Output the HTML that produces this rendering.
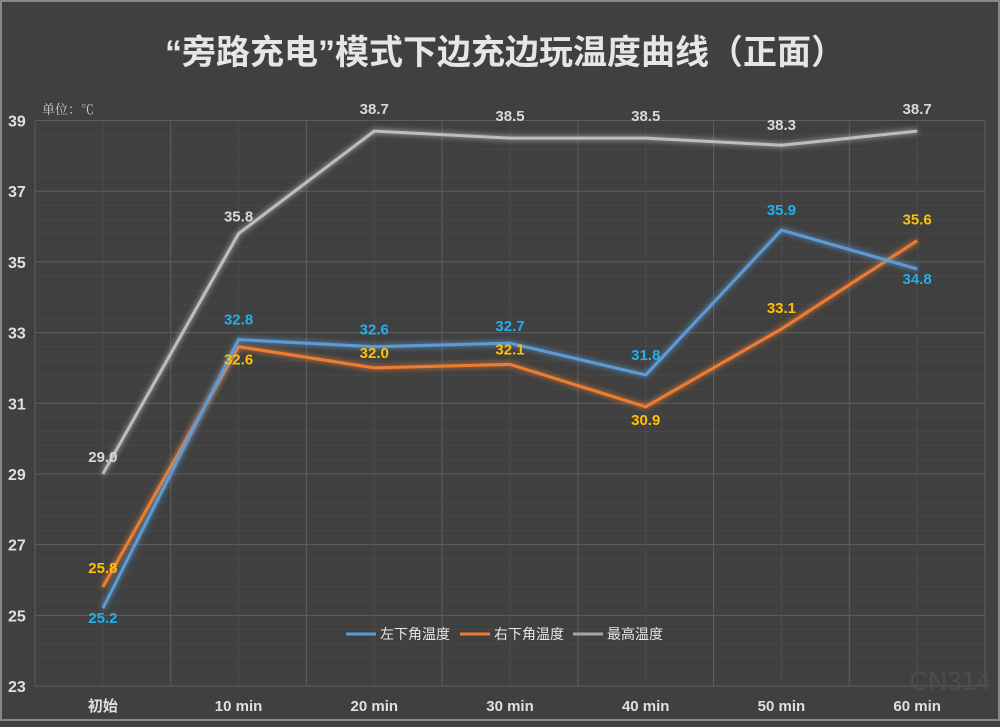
<!DOCTYPE html>
<html><head><meta charset="utf-8"><style>
html,body{margin:0;padding:0;background:#404040;}
body{width:1000px;height:722px;overflow:hidden;font-family:"Liberation Sans","Noto Sans CJK SC",sans-serif;}
</style></head><body>
<svg id="chart" width="1000" height="722" viewBox="0 0 1000 722" xmlns="http://www.w3.org/2000/svg">
<defs>
<filter id="glow" x="-10%" y="-10%" width="120%" height="120%"><feGaussianBlur stdDeviation="3" result="b"/><feMerge><feMergeNode in="b"/><feMergeNode in="SourceGraphic"/></feMerge></filter>
</defs>
<rect x="0" y="0" width="1000" height="722" fill="#404040"/>
<rect x="1" y="1" width="998" height="719" fill="none" stroke="#888" stroke-width="2"/>
<text x="505" y="64" text-anchor="middle" font-size="34" font-weight="bold" fill="#e6e6e6" font-family="'Liberation Sans','Noto Sans CJK SC',sans-serif">“旁路充电”模式下边充边玩温度曲线（正面）</text>
<text x="42" y="114" font-size="13" fill="#cfcfcf" font-family="'Liberation Serif','Noto Serif CJK SC',serif">单位：℃</text>
<g id="grid"></g><g id="axes"></g><g id="series"></g><g id="labels"></g>
<g>
<line x1="346" y1="634" x2="376" y2="634" stroke="#5b9bd5" stroke-width="3"/>
<text x="380" y="639" font-size="14" fill="#e6e6e6">左下角温度</text>
<line x1="460" y1="634" x2="490" y2="634" stroke="#ed7d31" stroke-width="3"/>
<text x="494" y="639" font-size="14" fill="#e6e6e6">右下角温度</text>
<line x1="573" y1="634" x2="603" y2="634" stroke="#a5a5a5" stroke-width="3"/>
<text x="607" y="639" font-size="14" fill="#e6e6e6">最高温度</text>
</g>
<text x="950" y="690" text-anchor="middle" font-size="26" fill="#4d4d4d">CN314</text>
</svg>
<script>
const categories=["初始","10 min","20 min","30 min","40 min","50 min","60 min"];
const leftVals=[25.2,32.8,32.6,32.7,31.8,35.9,34.8];
const rightVals=[25.8,32.6,32.0,32.1,30.9,33.1,35.6];
const maxVals=[29.0,35.8,38.7,38.5,38.5,38.3,38.7];
const yTicks=[23,25,27,29,31,33,35,37,39];
const NS="http://www.w3.org/2000/svg";
const L=35,R=985,T=120.5,B=686,YMIN=23,YMAX=39;
const band=(R-L)/categories.length;
function x(i){return L+band*(i+0.5);}
function y(v){return B-(v-YMIN)/(YMAX-YMIN)*(B-T);}
function mk(tag,attrs,parent){const e=document.createElementNS(NS,tag);for(const k in attrs)e.setAttribute(k,attrs[k]);parent.appendChild(e);return e;}
const grid=document.getElementById('grid'),axes=document.getElementById('axes'),series=document.getElementById('series'),labels=document.getElementById('labels');
for(let v=YMIN;v<=YMAX+0.001;v+=0.4){const l=mk('line',{x1:L,x2:R,y1:y(v),y2:y(v),stroke:'#474747','stroke-width':1},grid);

}
yTicks.forEach(t=>{const l=mk('line',{x1:L,x2:R,y1:y(t),y2:y(t),stroke:'#5e5e5e','stroke-width':1},grid);


const tx=mk('text',{x:8,y:y(t)+6,'font-size':16,'font-weight':'bold',fill:'#e0e0e0'},axes);tx.textContent=t;

});
for(let i=0;i<=categories.length*2;i++){const xx=L+band*i/2;const l=mk('line',{x1:xx,x2:xx,y1:T,y2:B,stroke:i%2?'#4c4c4c':'#5e5e5e','stroke-width':1},grid);

}
categories.forEach((c,i)=>{const tx=mk('text',{x:x(i),y:711,'text-anchor':'middle','font-size':15,'font-weight':'bold',fill:'#e0e0e0'},axes);tx.textContent=c;

});
function draw(vals,color,name,lblColor,offs){
const pts=vals.map((v,i)=>x(i)+','+y(v)).join(' ');
const p=mk('polyline',{points:pts,fill:'none',stroke:color,'stroke-width':3,'stroke-linejoin':'round',filter:'url(#glow)'},series);


vals.forEach((v,i)=>{const tx=mk('text',{x:x(i),y:y(v)+offs[i],'text-anchor':'middle','font-size':15,'font-weight':'bold',fill:lblColor},labels);tx.textContent=v.toFixed(1);

});}
draw(maxVals,'#bdbdbd','max-temp','#d8d8d8',[-12,-12,-17,-17,-17,-15,-17]);
draw(rightVals,'#ed7d31','right-temp','#ffc000',[-14,18,-10,-10,18,-16,-16]);
draw(leftVals,'#5b9bd5','left-temp','#1fb0f0',[15,-15,-12,-12,-15,-15,15]);
</script>
</body></html>
